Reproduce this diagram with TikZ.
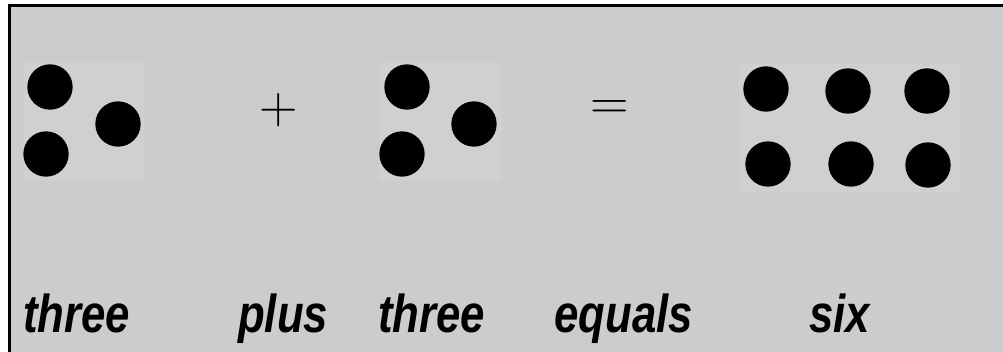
\documentclass[tikz,border=0pt]{standalone}
\usepackage{fontspec}
\newfontfamily\handfont[FakeStretch=0.82]{Liberation Sans}
\usetikzlibrary{positioning}
\definecolor{panelgray}{RGB}{204,204,204}
\definecolor{traygray}{RGB}{208,208,208}
\tikzset{dot/.style={circle, fill=black, inner sep=0pt, minimum size=34pt}}
\tikzstyle{tray} = [rectangle, fill=traygray, inner sep=0pt]
\tikzstyle{sign} = [inner sep=0pt, font=\fontsize{40}{40}\selectfont]
\tikzstyle{word} = [anchor=base west, inner sep=0pt, font=\handfont\bfseries\itshape\fontsize{40}{40}\selectfont]

\begin{document}
\begin{tikzpicture}[x=0.75pt, y=-0.75pt]
    \useasboundingbox (0,0) rectangle (1003,352);
    \fill [panelgray] (8,5) rectangle (1003,352);
    \draw [line width=2.25pt] (9,352) -- (9,6) -- (1003,6);

    \node [tray, minimum width=91.5pt, minimum height=88.5pt] (trayA) at (84,121) {};
    \node [dot] (a1) at (50,87) {};
    \node [dot] (a2) at (118,124) {};
    \node [dot] (a3) at (46,154) {};

    \node [sign] (plus) at (279,110) {+};

    \node [tray, minimum width=91.5pt, minimum height=88.5pt] (trayB) at (440,121) {};
    \node [dot] (b1) at (407,87) {};
    \node [dot] (b2) at (474,124) {};
    \node [dot] (b3) at (402,154) {};

    \node [sign] (equals) at (610,110) {=};

    \node [tray, minimum width=165pt, minimum height=96.75pt] (trayC) at (849,127.5) {};
    \node [dot] (c1) at (766,89) {};
    \node [dot] (c2) at (848,91) {};
    \node [dot] (c3) at (927,91) {};
    \node [dot] (c4) at (768,164) {};
    \node [dot] (c5) at (851,164) {};
    \node [dot] (c6) at (928,165) {};

    \node [word] (wthreeA) at (23,333) {three};
    \node [word] (wplus) at (238,333) {plus};
    \node [word] (wthreeB) at (378,333) {three};
    \node [word] (wequals) at (554,333) {equals};
    \node [word] (wsix) at (809,333) {six};
\end{tikzpicture}
\end{document}
